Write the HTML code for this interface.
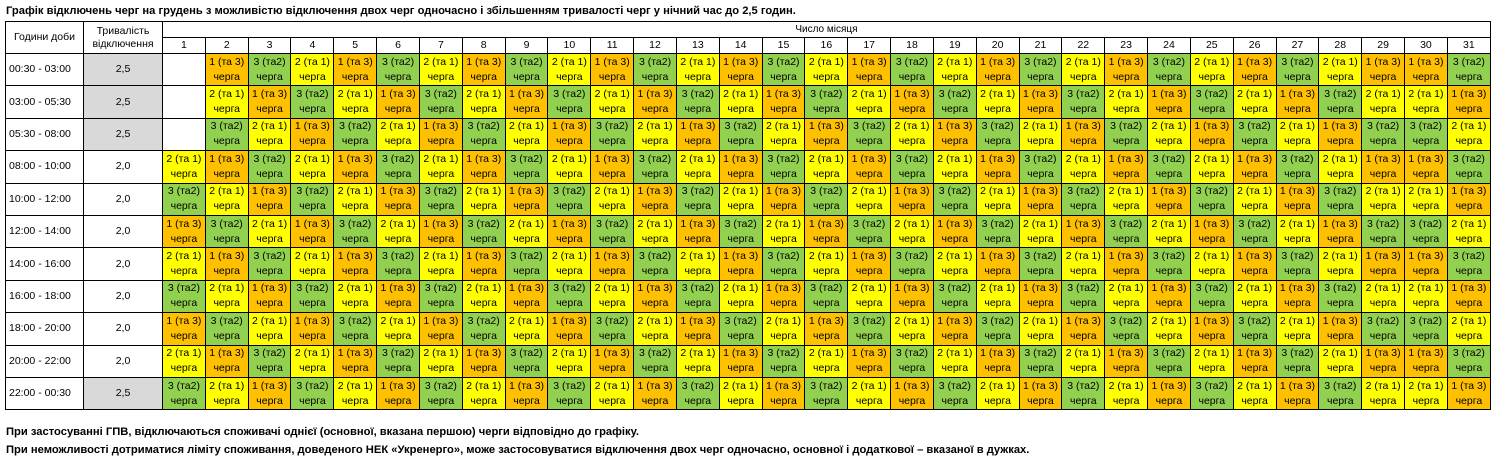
<!DOCTYPE html>
<html><head><meta charset="utf-8">
<style>
body{margin:0;width:1497px;height:470px;background:#fff;font-family:"Liberation Sans","DejaVu Sans",sans-serif;color:#000;position:relative;overflow:hidden}
.t{position:absolute;left:6px;top:5px;font-size:11.2px;font-weight:bold;white-space:nowrap}
table{position:absolute;left:5px;top:21px;border-collapse:collapse;table-layout:fixed;width:1485px}
td{border:1.6px solid #000;padding:0;text-align:center;font-size:10.5px;line-height:15px;overflow:hidden;white-space:nowrap}
tr.d td{height:31.4px}
tr.h1 td{height:15px}
tr.h2 td{height:14px;font-size:10.5px}
td.l{text-align:left;padding-left:3px;font-size:10.5px}
td.s{background:#d9d9d9;font-size:10.5px}
td.w{font-size:10.5px}
.y{background:#ffff00}.o{background:#ffc000}.g{background:#92d050}
.f{position:absolute;left:6px;font-size:11.2px;font-weight:bold;white-space:nowrap}
</style></head><body>
<div class="t">Графік відключень черг на грудень з можливістю відключення двох черг одночасно і збільшенням тривалості черг у нічний час до 2,5 годин.</div>
<table>
<colgroup><col style="width:78px"><col style="width:79px">
<col span="31" style="width:42.84px"></colgroup>
<tr class="h1"><td rowspan="2" style="font-size:10.5px">Години доби</td><td rowspan="2" style="font-size:10.5px;line-height:13px">Тривалість<br>відключення</td><td colspan="31" style="font-size:10px">Число місяця</td></tr>
<tr class="h2"><td>1</td><td>2</td><td>3</td><td>4</td><td>5</td><td>6</td><td>7</td><td>8</td><td>9</td><td>10</td><td>11</td><td>12</td><td>13</td><td>14</td><td>15</td><td>16</td><td>17</td><td>18</td><td>19</td><td>20</td><td>21</td><td>22</td><td>23</td><td>24</td><td>25</td><td>26</td><td>27</td><td>28</td><td>29</td><td>30</td><td>31</td></tr>

<tr class="d"><td class="l">00:30 - 03:00</td><td class="s">2,5</td><td></td><td class=o>1 (та 3)<br>черга</td><td class=g>3 (та2)<br>черга</td><td class=y>2 (та 1)<br>черга</td><td class=o>1 (та 3)<br>черга</td><td class=g>3 (та2)<br>черга</td><td class=y>2 (та 1)<br>черга</td><td class=o>1 (та 3)<br>черга</td><td class=g>3 (та2)<br>черга</td><td class=y>2 (та 1)<br>черга</td><td class=o>1 (та 3)<br>черга</td><td class=g>3 (та2)<br>черга</td><td class=y>2 (та 1)<br>черга</td><td class=o>1 (та 3)<br>черга</td><td class=g>3 (та2)<br>черга</td><td class=y>2 (та 1)<br>черга</td><td class=o>1 (та 3)<br>черга</td><td class=g>3 (та2)<br>черга</td><td class=y>2 (та 1)<br>черга</td><td class=o>1 (та 3)<br>черга</td><td class=g>3 (та2)<br>черга</td><td class=y>2 (та 1)<br>черга</td><td class=o>1 (та 3)<br>черга</td><td class=g>3 (та2)<br>черга</td><td class=y>2 (та 1)<br>черга</td><td class=o>1 (та 3)<br>черга</td><td class=g>3 (та2)<br>черга</td><td class=y>2 (та 1)<br>черга</td><td class=o>1 (та 3)<br>черга</td><td class=o>1 (та 3)<br>черга</td><td class=g>3 (та2)<br>черга</td></tr>

<tr class="d"><td class="l">03:00 - 05:30</td><td class="s">2,5</td><td></td><td class=y>2 (та 1)<br>черга</td><td class=o>1 (та 3)<br>черга</td><td class=g>3 (та2)<br>черга</td><td class=y>2 (та 1)<br>черга</td><td class=o>1 (та 3)<br>черга</td><td class=g>3 (та2)<br>черга</td><td class=y>2 (та 1)<br>черга</td><td class=o>1 (та 3)<br>черга</td><td class=g>3 (та2)<br>черга</td><td class=y>2 (та 1)<br>черга</td><td class=o>1 (та 3)<br>черга</td><td class=g>3 (та2)<br>черга</td><td class=y>2 (та 1)<br>черга</td><td class=o>1 (та 3)<br>черга</td><td class=g>3 (та2)<br>черга</td><td class=y>2 (та 1)<br>черга</td><td class=o>1 (та 3)<br>черга</td><td class=g>3 (та2)<br>черга</td><td class=y>2 (та 1)<br>черга</td><td class=o>1 (та 3)<br>черга</td><td class=g>3 (та2)<br>черга</td><td class=y>2 (та 1)<br>черга</td><td class=o>1 (та 3)<br>черга</td><td class=g>3 (та2)<br>черга</td><td class=y>2 (та 1)<br>черга</td><td class=o>1 (та 3)<br>черга</td><td class=g>3 (та2)<br>черга</td><td class=y>2 (та 1)<br>черга</td><td class=y>2 (та 1)<br>черга</td><td class=o>1 (та 3)<br>черга</td></tr>

<tr class="d"><td class="l">05:30 - 08:00</td><td class="s">2,5</td><td></td><td class=g>3 (та2)<br>черга</td><td class=y>2 (та 1)<br>черга</td><td class=o>1 (та 3)<br>черга</td><td class=g>3 (та2)<br>черга</td><td class=y>2 (та 1)<br>черга</td><td class=o>1 (та 3)<br>черга</td><td class=g>3 (та2)<br>черга</td><td class=y>2 (та 1)<br>черга</td><td class=o>1 (та 3)<br>черга</td><td class=g>3 (та2)<br>черга</td><td class=y>2 (та 1)<br>черга</td><td class=o>1 (та 3)<br>черга</td><td class=g>3 (та2)<br>черга</td><td class=y>2 (та 1)<br>черга</td><td class=o>1 (та 3)<br>черга</td><td class=g>3 (та2)<br>черга</td><td class=y>2 (та 1)<br>черга</td><td class=o>1 (та 3)<br>черга</td><td class=g>3 (та2)<br>черга</td><td class=y>2 (та 1)<br>черга</td><td class=o>1 (та 3)<br>черга</td><td class=g>3 (та2)<br>черга</td><td class=y>2 (та 1)<br>черга</td><td class=o>1 (та 3)<br>черга</td><td class=g>3 (та2)<br>черга</td><td class=y>2 (та 1)<br>черга</td><td class=o>1 (та 3)<br>черга</td><td class=g>3 (та2)<br>черга</td><td class=g>3 (та2)<br>черга</td><td class=y>2 (та 1)<br>черга</td></tr>

<tr class="d"><td class="l">08:00 - 10:00</td><td class="w">2,0</td><td class=y>2 (та 1)<br>черга</td><td class=o>1 (та 3)<br>черга</td><td class=g>3 (та2)<br>черга</td><td class=y>2 (та 1)<br>черга</td><td class=o>1 (та 3)<br>черга</td><td class=g>3 (та2)<br>черга</td><td class=y>2 (та 1)<br>черга</td><td class=o>1 (та 3)<br>черга</td><td class=g>3 (та2)<br>черга</td><td class=y>2 (та 1)<br>черга</td><td class=o>1 (та 3)<br>черга</td><td class=g>3 (та2)<br>черга</td><td class=y>2 (та 1)<br>черга</td><td class=o>1 (та 3)<br>черга</td><td class=g>3 (та2)<br>черга</td><td class=y>2 (та 1)<br>черга</td><td class=o>1 (та 3)<br>черга</td><td class=g>3 (та2)<br>черга</td><td class=y>2 (та 1)<br>черга</td><td class=o>1 (та 3)<br>черга</td><td class=g>3 (та2)<br>черга</td><td class=y>2 (та 1)<br>черга</td><td class=o>1 (та 3)<br>черга</td><td class=g>3 (та2)<br>черга</td><td class=y>2 (та 1)<br>черга</td><td class=o>1 (та 3)<br>черга</td><td class=g>3 (та2)<br>черга</td><td class=y>2 (та 1)<br>черга</td><td class=o>1 (та 3)<br>черга</td><td class=o>1 (та 3)<br>черга</td><td class=g>3 (та2)<br>черга</td></tr>

<tr class="d"><td class="l">10:00 - 12:00</td><td class="w">2,0</td><td class=g>3 (та2)<br>черга</td><td class=y>2 (та 1)<br>черга</td><td class=o>1 (та 3)<br>черга</td><td class=g>3 (та2)<br>черга</td><td class=y>2 (та 1)<br>черга</td><td class=o>1 (та 3)<br>черга</td><td class=g>3 (та2)<br>черга</td><td class=y>2 (та 1)<br>черга</td><td class=o>1 (та 3)<br>черга</td><td class=g>3 (та2)<br>черга</td><td class=y>2 (та 1)<br>черга</td><td class=o>1 (та 3)<br>черга</td><td class=g>3 (та2)<br>черга</td><td class=y>2 (та 1)<br>черга</td><td class=o>1 (та 3)<br>черга</td><td class=g>3 (та2)<br>черга</td><td class=y>2 (та 1)<br>черга</td><td class=o>1 (та 3)<br>черга</td><td class=g>3 (та2)<br>черга</td><td class=y>2 (та 1)<br>черга</td><td class=o>1 (та 3)<br>черга</td><td class=g>3 (та2)<br>черга</td><td class=y>2 (та 1)<br>черга</td><td class=o>1 (та 3)<br>черга</td><td class=g>3 (та2)<br>черга</td><td class=y>2 (та 1)<br>черга</td><td class=o>1 (та 3)<br>черга</td><td class=g>3 (та2)<br>черга</td><td class=y>2 (та 1)<br>черга</td><td class=y>2 (та 1)<br>черга</td><td class=o>1 (та 3)<br>черга</td></tr>

<tr class="d"><td class="l">12:00 - 14:00</td><td class="w">2,0</td><td class=o>1 (та 3)<br>черга</td><td class=g>3 (та2)<br>черга</td><td class=y>2 (та 1)<br>черга</td><td class=o>1 (та 3)<br>черга</td><td class=g>3 (та2)<br>черга</td><td class=y>2 (та 1)<br>черга</td><td class=o>1 (та 3)<br>черга</td><td class=g>3 (та2)<br>черга</td><td class=y>2 (та 1)<br>черга</td><td class=o>1 (та 3)<br>черга</td><td class=g>3 (та2)<br>черга</td><td class=y>2 (та 1)<br>черга</td><td class=o>1 (та 3)<br>черга</td><td class=g>3 (та2)<br>черга</td><td class=y>2 (та 1)<br>черга</td><td class=o>1 (та 3)<br>черга</td><td class=g>3 (та2)<br>черга</td><td class=y>2 (та 1)<br>черга</td><td class=o>1 (та 3)<br>черга</td><td class=g>3 (та2)<br>черга</td><td class=y>2 (та 1)<br>черга</td><td class=o>1 (та 3)<br>черга</td><td class=g>3 (та2)<br>черга</td><td class=y>2 (та 1)<br>черга</td><td class=o>1 (та 3)<br>черга</td><td class=g>3 (та2)<br>черга</td><td class=y>2 (та 1)<br>черга</td><td class=o>1 (та 3)<br>черга</td><td class=g>3 (та2)<br>черга</td><td class=g>3 (та2)<br>черга</td><td class=y>2 (та 1)<br>черга</td></tr>

<tr class="d"><td class="l">14:00 - 16:00</td><td class="w">2,0</td><td class=y>2 (та 1)<br>черга</td><td class=o>1 (та 3)<br>черга</td><td class=g>3 (та2)<br>черга</td><td class=y>2 (та 1)<br>черга</td><td class=o>1 (та 3)<br>черга</td><td class=g>3 (та2)<br>черга</td><td class=y>2 (та 1)<br>черга</td><td class=o>1 (та 3)<br>черга</td><td class=g>3 (та2)<br>черга</td><td class=y>2 (та 1)<br>черга</td><td class=o>1 (та 3)<br>черга</td><td class=g>3 (та2)<br>черга</td><td class=y>2 (та 1)<br>черга</td><td class=o>1 (та 3)<br>черга</td><td class=g>3 (та2)<br>черга</td><td class=y>2 (та 1)<br>черга</td><td class=o>1 (та 3)<br>черга</td><td class=g>3 (та2)<br>черга</td><td class=y>2 (та 1)<br>черга</td><td class=o>1 (та 3)<br>черга</td><td class=g>3 (та2)<br>черга</td><td class=y>2 (та 1)<br>черга</td><td class=o>1 (та 3)<br>черга</td><td class=g>3 (та2)<br>черга</td><td class=y>2 (та 1)<br>черга</td><td class=o>1 (та 3)<br>черга</td><td class=g>3 (та2)<br>черга</td><td class=y>2 (та 1)<br>черга</td><td class=o>1 (та 3)<br>черга</td><td class=o>1 (та 3)<br>черга</td><td class=g>3 (та2)<br>черга</td></tr>

<tr class="d"><td class="l">16:00 - 18:00</td><td class="w">2,0</td><td class=g>3 (та2)<br>черга</td><td class=y>2 (та 1)<br>черга</td><td class=o>1 (та 3)<br>черга</td><td class=g>3 (та2)<br>черга</td><td class=y>2 (та 1)<br>черга</td><td class=o>1 (та 3)<br>черга</td><td class=g>3 (та2)<br>черга</td><td class=y>2 (та 1)<br>черга</td><td class=o>1 (та 3)<br>черга</td><td class=g>3 (та2)<br>черга</td><td class=y>2 (та 1)<br>черга</td><td class=o>1 (та 3)<br>черга</td><td class=g>3 (та2)<br>черга</td><td class=y>2 (та 1)<br>черга</td><td class=o>1 (та 3)<br>черга</td><td class=g>3 (та2)<br>черга</td><td class=y>2 (та 1)<br>черга</td><td class=o>1 (та 3)<br>черга</td><td class=g>3 (та2)<br>черга</td><td class=y>2 (та 1)<br>черга</td><td class=o>1 (та 3)<br>черга</td><td class=g>3 (та2)<br>черга</td><td class=y>2 (та 1)<br>черга</td><td class=o>1 (та 3)<br>черга</td><td class=g>3 (та2)<br>черга</td><td class=y>2 (та 1)<br>черга</td><td class=o>1 (та 3)<br>черга</td><td class=g>3 (та2)<br>черга</td><td class=y>2 (та 1)<br>черга</td><td class=y>2 (та 1)<br>черга</td><td class=o>1 (та 3)<br>черга</td></tr>

<tr class="d"><td class="l">18:00 - 20:00</td><td class="w">2,0</td><td class=o>1 (та 3)<br>черга</td><td class=g>3 (та2)<br>черга</td><td class=y>2 (та 1)<br>черга</td><td class=o>1 (та 3)<br>черга</td><td class=g>3 (та2)<br>черга</td><td class=y>2 (та 1)<br>черга</td><td class=o>1 (та 3)<br>черга</td><td class=g>3 (та2)<br>черга</td><td class=y>2 (та 1)<br>черга</td><td class=o>1 (та 3)<br>черга</td><td class=g>3 (та2)<br>черга</td><td class=y>2 (та 1)<br>черга</td><td class=o>1 (та 3)<br>черга</td><td class=g>3 (та2)<br>черга</td><td class=y>2 (та 1)<br>черга</td><td class=o>1 (та 3)<br>черга</td><td class=g>3 (та2)<br>черга</td><td class=y>2 (та 1)<br>черга</td><td class=o>1 (та 3)<br>черга</td><td class=g>3 (та2)<br>черга</td><td class=y>2 (та 1)<br>черга</td><td class=o>1 (та 3)<br>черга</td><td class=g>3 (та2)<br>черга</td><td class=y>2 (та 1)<br>черга</td><td class=o>1 (та 3)<br>черга</td><td class=g>3 (та2)<br>черга</td><td class=y>2 (та 1)<br>черга</td><td class=o>1 (та 3)<br>черга</td><td class=g>3 (та2)<br>черга</td><td class=g>3 (та2)<br>черга</td><td class=y>2 (та 1)<br>черга</td></tr>

<tr class="d"><td class="l">20:00 - 22:00</td><td class="w">2,0</td><td class=y>2 (та 1)<br>черга</td><td class=o>1 (та 3)<br>черга</td><td class=g>3 (та2)<br>черга</td><td class=y>2 (та 1)<br>черга</td><td class=o>1 (та 3)<br>черга</td><td class=g>3 (та2)<br>черга</td><td class=y>2 (та 1)<br>черга</td><td class=o>1 (та 3)<br>черга</td><td class=g>3 (та2)<br>черга</td><td class=y>2 (та 1)<br>черга</td><td class=o>1 (та 3)<br>черга</td><td class=g>3 (та2)<br>черга</td><td class=y>2 (та 1)<br>черга</td><td class=o>1 (та 3)<br>черга</td><td class=g>3 (та2)<br>черга</td><td class=y>2 (та 1)<br>черга</td><td class=o>1 (та 3)<br>черга</td><td class=g>3 (та2)<br>черга</td><td class=y>2 (та 1)<br>черга</td><td class=o>1 (та 3)<br>черга</td><td class=g>3 (та2)<br>черга</td><td class=y>2 (та 1)<br>черга</td><td class=o>1 (та 3)<br>черга</td><td class=g>3 (та2)<br>черга</td><td class=y>2 (та 1)<br>черга</td><td class=o>1 (та 3)<br>черга</td><td class=g>3 (та2)<br>черга</td><td class=y>2 (та 1)<br>черга</td><td class=o>1 (та 3)<br>черга</td><td class=o>1 (та 3)<br>черга</td><td class=g>3 (та2)<br>черга</td></tr>

<tr class="d"><td class="l">22:00 - 00:30</td><td class="s">2,5</td><td class=g>3 (та2)<br>черга</td><td class=y>2 (та 1)<br>черга</td><td class=o>1 (та 3)<br>черга</td><td class=g>3 (та2)<br>черга</td><td class=y>2 (та 1)<br>черга</td><td class=o>1 (та 3)<br>черга</td><td class=g>3 (та2)<br>черга</td><td class=y>2 (та 1)<br>черга</td><td class=o>1 (та 3)<br>черга</td><td class=g>3 (та2)<br>черга</td><td class=y>2 (та 1)<br>черга</td><td class=o>1 (та 3)<br>черга</td><td class=g>3 (та2)<br>черга</td><td class=y>2 (та 1)<br>черга</td><td class=o>1 (та 3)<br>черга</td><td class=g>3 (та2)<br>черга</td><td class=y>2 (та 1)<br>черга</td><td class=o>1 (та 3)<br>черга</td><td class=g>3 (та2)<br>черга</td><td class=y>2 (та 1)<br>черга</td><td class=o>1 (та 3)<br>черга</td><td class=g>3 (та2)<br>черга</td><td class=y>2 (та 1)<br>черга</td><td class=o>1 (та 3)<br>черга</td><td class=g>3 (та2)<br>черга</td><td class=y>2 (та 1)<br>черга</td><td class=o>1 (та 3)<br>черга</td><td class=g>3 (та2)<br>черга</td><td class=y>2 (та 1)<br>черга</td><td class=y>2 (та 1)<br>черга</td><td class=o>1 (та 3)<br>черга</td></tr>
</table>
<div class="f" style="top:426px">При застосуванні ГПВ, відключаються споживачі однієї (основної, вказана першою) черги відповідно до графіку.</div>
<div class="f" style="top:444px">При неможливості дотриматися ліміту споживання, доведеного НЕК «Укренерго», може застосовуватися відключення двох черг одночасно, основної і додаткової – вказаної в дужках.</div>
</body></html>
